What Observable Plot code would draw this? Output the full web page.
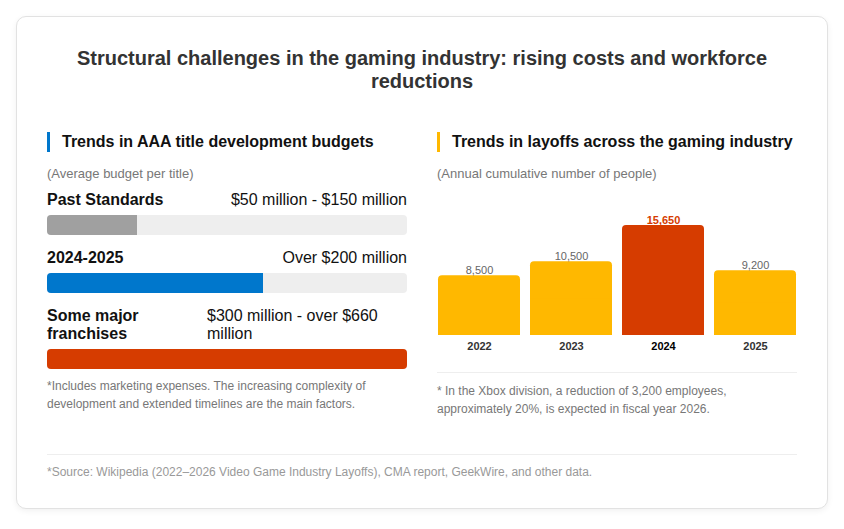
<!DOCTYPE html>
<html><head><meta charset="utf-8">
<script src="https://cdn.jsdelivr.net/npm/d3@7"></script>
<script src="https://cdn.jsdelivr.net/npm/@observablehq/plot@0.6"></script>
<style>
body{margin:0;background:#fff;font-family:"Liberation Sans",Arial,sans-serif;}
.card{position:absolute;left:16px;top:16px;width:812px;height:493px;box-sizing:border-box;padding:30px;border:1px solid #e2e2e2;border-radius:10px;box-shadow:0 2px 6px rgba(0,0,0,0.06);background:#fff;}
h1{margin:0 0 39px;font-size:20px;line-height:23px;text-align:center;color:#333;font-weight:bold;}
.cols{display:flex;gap:30px;}
.col{width:360px;}
.hdr{border-left:3px solid #0077cc;padding-left:12px;font-size:16px;font-weight:bold;line-height:20px;color:#111;margin-bottom:14px;}
.sub{font-size:13px;color:#777;line-height:16px;margin-bottom:9px;}
.row{display:flex;justify-content:space-between;gap:10px;font-size:16px;line-height:18px;color:#111;margin-bottom:6px;}
.row .lab{font-weight:bold;}
.row.wrap .lab{width:150px;}
.row.wrap .val{width:200px;text-align:left;}
.barbox{width:360px;height:20px;border-radius:4px;overflow:hidden;margin-bottom:14px;}
.barbox svg{display:block;}
.note{font-size:12px;color:#777;line-height:18px;}
.chart{margin-top:23px;height:150px;}
.chart svg{display:block;}
.rnote{margin-top:17px;border-top:1px solid #eee;padding-top:9px;}
.foot{margin-top:36px;border-top:1px solid #eee;padding-top:9px;font-size:12px;line-height:16px;color:#999;}
</style>
</head><body>
<div class="card">
  <h1 id="title"></h1>
  <div class="cols">
    <div class="col" id="left">
      <div class="hdr" id="lhdr"></div>
      <div class="sub" id="lsub"></div>
      <div id="rows"></div>
      <div class="note" id="lnote" style="margin-top:-6px"></div>
    </div>
    <div class="col" id="right">
      <div class="hdr" id="rhdr" style="border-left-color:#ffb800"></div>
      <div class="sub" id="rsub"></div>
      <div class="chart" id="chart"></div>
      <div class="note rnote" id="rnote"></div>
    </div>
  </div>
  <div class="foot" id="foot"></div>
</div>
<script>
const titleText = "Structural challenges in the gaming industry: rising costs and workforce reductions";
const leftTitle = "Trends in AAA title development budgets";
const leftSub = "(Average budget per title)";
const budgetLabels = ["Past Standards", "2024-2025", "Some major franchises"];
const budgetRanges = ["$50 million - $150 million", "Over $200 million", "$300 million - over $660 million"];
const budgetShare = [25, 60, 100];
const leftNote = "*Includes marketing expenses. The increasing complexity of development and extended timelines are the main factors.";
const rightTitle = "Trends in layoffs across the gaming industry";
const rightSub = "(Annual cumulative number of people)";
const years = ["2022", "2023", "2024", "2025"];
const layoffs = [8500, 10500, 15650, 9200];
const highlightYear = "2024";
const rightNote = "* In the Xbox division, a reduction of 3,200 employees, approximately 20%, is expected in fiscal year 2026.";
const sourceText = "*Source: Wikipedia (2022–2026 Video Game Industry Layoffs), CMA report, GeekWire, and other data.";

const budgetColors = ["#a0a0a0", "#0077cc", "#d63c00"];
const RED = "#d63c00", YELLOW = "#ffb800";
const FONT = '"Liberation Sans", Arial, sans-serif';

document.getElementById("title").textContent = titleText;
document.getElementById("lhdr").textContent = leftTitle;
document.getElementById("lsub").textContent = leftSub;
document.getElementById("lnote").textContent = leftNote;
document.getElementById("rhdr").textContent = rightTitle;
document.getElementById("rsub").textContent = rightSub;
document.getElementById("rnote").textContent = rightNote;
document.getElementById("foot").textContent = sourceText;

const rows = document.getElementById("rows");
budgetLabels.forEach((lab, i) => {
  const r = document.createElement("div");
  r.className = "row" + (i === 2 ? " wrap" : "");
  const a = document.createElement("div"); a.className = "lab"; a.textContent = lab;
  const b = document.createElement("div"); b.className = "val"; b.textContent = budgetRanges[i];
  r.append(a, b);
  rows.append(r);
  const box = document.createElement("div"); box.className = "barbox";
  box.append(Plot.plot({
    width: 360, height: 20, margin: 0,
    x: {domain: [0, 100], axis: null},
    style: {fontFamily: FONT, background: "transparent"},
    marks: [
      Plot.barX([100], {x: d => d, fill: "#eeeeee"}),
      Plot.barX([budgetShare[i]], {x: d => d, fill: budgetColors[i]})
    ]
  }));
  rows.append(box);
});

const data = years.map((y, i) => ({year: y, value: layoffs[i]}));
const isHi = d => d.year === highlightYear;
const fmt = d3.format(",");
document.getElementById("chart").append(Plot.plot({
  width: 360, height: 150, marginTop: 20, marginBottom: 20, marginLeft: 0, marginRight: 0,
  x: {domain: years, paddingInner: 0.11, paddingOuter: 0, axis: null},
  y: {domain: [0, 15650], axis: null},
  style: {fontFamily: FONT, background: "transparent"},
  marks: [
    Plot.barY(data, {x: "year", y: "value", fill: d => isHi(d) ? RED : YELLOW, rx: 4}),
    Plot.barY(data, {x: "year", y1: 0, y2: d => d.value / 2, fill: d => isHi(d) ? RED : YELLOW}),
    Plot.text(data.filter(d => !isHi(d)), {x: "year", y: "value", text: d => fmt(d.value), dy: -2, lineAnchor: "bottom", fontSize: 11, fill: "#666"}),
    Plot.text(data.filter(isHi), {x: "year", y: "value", text: d => fmt(d.value), dy: -2, lineAnchor: "bottom", fontSize: 11, fill: RED, fontWeight: "bold"}),
    Plot.text(data.filter(d => !isHi(d)), {x: "year", y: 0, text: "year", dy: 7, lineAnchor: "top", fontSize: 11, fontWeight: "bold", fill: "#333"}),
    Plot.text(data.filter(isHi), {x: "year", y: 0, text: "year", dy: 7, lineAnchor: "top", fontSize: 11, fontWeight: "bold", fill: "#000"})
  ]
}));
</script>
</body></html>
